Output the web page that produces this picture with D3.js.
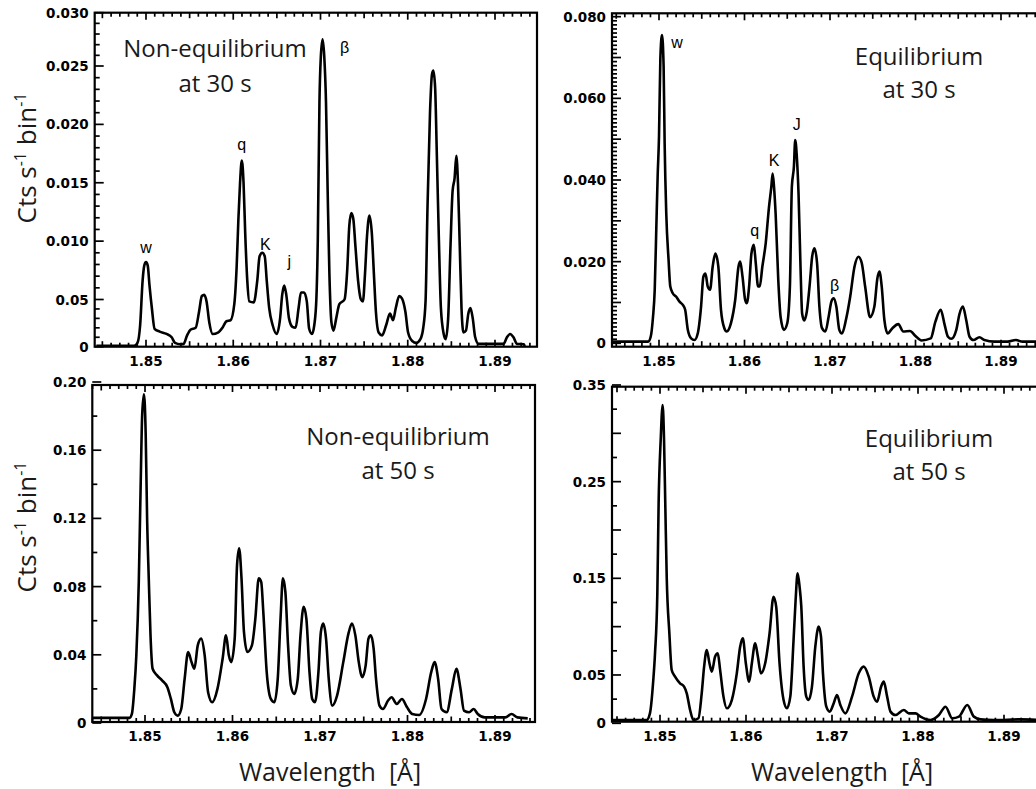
<!DOCTYPE html>
<html>
<head>
<meta charset="utf-8">
<script src="https://cdn.jsdelivr.net/npm/d3@7"></script>
<style>
  html, body { margin: 0; padding: 0; background: #fff; }
  svg { display: block; }
</style>
</head>
<body>
<svg id="chart" width="1036" height="789"></svg>
<script>
// ---- Spectra: wavelength (Å) and count rate (cts s^-1 bin^-1) ----
const nonEq30Wave = [1.84431,1.84863,1.84902,1.84933,1.84961,1.8498,1.85,1.8502,1.85039,1.85067,
  1.85098,1.85157,1.85235,1.85294,1.85333,1.85392,1.85431,1.85471,1.8551,1.85569,
  1.85608,1.8564,1.85667,1.85694,1.85725,1.85765,1.85824,1.85882,1.85922,1.85969,
  1.86012,1.86039,1.86059,1.86078,1.86098,1.86118,1.86137,1.86161,1.86184,1.86235,
  1.86275,1.86302,1.86333,1.86361,1.86384,1.86412,1.86451,1.86498,1.86537,1.86561,
  1.86584,1.86608,1.86639,1.86678,1.86714,1.86749,1.86776,1.86812,1.86843,1.8687,
  1.86902,1.86929,1.86953,1.86969,1.86988,1.87004,1.87024,1.87043,1.87063,1.87082,
  1.87102,1.87125,1.87149,1.8718,1.87216,1.87275,1.87306,1.8733,1.87353,1.87376,
  1.874,1.87431,1.87463,1.87486,1.8751,1.87533,1.87561,1.87588,1.87612,1.87635,
  1.87667,1.87706,1.87753,1.87796,1.87831,1.87863,1.87902,1.87933,1.87973,1.88004,
  1.88051,1.88098,1.88145,1.88176,1.88204,1.88227,1.88255,1.88278,1.88294,1.88314,
  1.88333,1.88357,1.8838,1.88412,1.88435,1.88463,1.8849,1.88514,1.88537,1.88557,
  1.88576,1.88596,1.88616,1.88639,1.88667,1.88694,1.88718,1.88745,1.88773,1.88812,
  1.89098,1.89137,1.89173,1.89212,1.89251,1.89333,1.89341];
const nonEq30Counts = [0.0001,0.0001,0.0004,0.0023,0.0066,0.0079,0.0082,0.0079,0.0063,0.0041,
  0.0019,0.0016,0.00135,0.001,0.0004,0.00026,0.0003,0.0012,0.0018,0.002,
  0.0037,0.0053,0.0054,0.0048,0.0026,0.00135,0.0015,0.0021,0.0027,0.0028,
  0.0045,0.0078,0.0119,0.015,0.0169,0.015,0.0107,0.0066,0.0048,0.0047,
  0.0066,0.0087,0.009,0.0087,0.0066,0.0041,0.0023,0.00135,0.003,0.0054,
  0.0062,0.0054,0.003,0.0021,0.002,0.0041,0.0056,0.0056,0.0048,0.0019,
  0.00135,0.0023,0.0051,0.0101,0.0219,0.0259,0.0275,0.0259,0.0219,0.0143,
  0.0072,0.0026,0.0017,0.003,0.0045,0.005,0.0075,0.0113,0.0124,0.0119,
  0.0096,0.0066,0.005,0.0048,0.0072,0.0104,0.0122,0.0107,0.0072,0.0037,
  0.0015,0.0012,0.0023,0.0035,0.0028,0.0041,0.0053,0.0051,0.0037,0.0015,
  0.0006,0.0004,0.0008,0.0019,0.0048,0.0131,0.021,0.0243,0.0246,0.0231,
  0.0175,0.0101,0.0041,0.00135,0.0008,0.003,0.0096,0.0143,0.0154,0.0173,
  0.0149,0.0096,0.0041,0.0015,0.0017,0.0035,0.0041,0.003,0.001,0.0003,
  0.0003,0.001,0.00135,0.001,0.0003,0.00026,0];

const eq30Wave = [1.84446,1.84872,1.84903,1.8493,1.8495,1.84969,1.84984,1.85,1.85016,1.85035,
  1.85054,1.85066,1.85085,1.85112,1.85132,1.85163,1.85202,1.8524,1.85279,1.85306,
  1.85337,1.85376,1.85415,1.85453,1.85492,1.85519,1.85543,1.8557,1.85597,1.85628,
  1.85659,1.85694,1.85725,1.85764,1.85791,1.85841,1.85891,1.8593,1.8595,1.85977,
  1.86008,1.86027,1.86054,1.86081,1.86109,1.86132,1.86159,1.86178,1.86209,1.86248,
  1.86287,1.86314,1.86329,1.86345,1.86364,1.86395,1.86422,1.86461,1.865,1.86531,
  1.86554,1.86578,1.86593,1.86612,1.86632,1.86655,1.86674,1.86698,1.86729,1.86764,
  1.86791,1.86818,1.86849,1.86876,1.86907,1.86946,1.86984,1.87016,1.87043,1.87074,
  1.87109,1.8714,1.87186,1.87236,1.87287,1.87333,1.87372,1.87411,1.87469,1.87519,
  1.87554,1.87578,1.87605,1.87636,1.87674,1.8773,1.87798,1.87857,1.87934,1.88,
  1.8807,1.88178,1.88233,1.88295,1.88341,1.8838,1.88419,1.88477,1.88516,1.88554,
  1.88593,1.88632,1.88678,1.88748,1.88806,1.88922,1.89078,1.89174,1.89252,1.89426];
const eq30Counts = [0.0004,0.0004,0.0016,0.0065,0.0131,0.0286,0.0408,0.0506,0.0698,0.0755,
  0.0678,0.049,0.0318,0.0204,0.0139,0.0122,0.0114,0.0102,0.0094,0.0082,
  0.0033,0.0012,0.0008,0.0024,0.009,0.0163,0.0171,0.0139,0.0131,0.0188,
  0.022,0.0188,0.0082,0.0037,0.0029,0.0049,0.0106,0.0188,0.02,0.0163,
  0.0106,0.0098,0.0139,0.022,0.0241,0.0196,0.0139,0.0139,0.0188,0.0245,
  0.0335,0.0384,0.0416,0.0384,0.0318,0.0155,0.0065,0.0033,0.0049,0.0139,
  0.0384,0.0433,0.0498,0.0457,0.0367,0.0188,0.0073,0.0056,0.0078,0.0147,
  0.0212,0.0233,0.0196,0.009,0.0037,0.0029,0.0065,0.0102,0.011,0.009,
  0.0033,0.0024,0.0057,0.0114,0.0188,0.0212,0.0196,0.0139,0.0064,0.009,
  0.0159,0.0176,0.0139,0.0057,0.0024,0.0037,0.0047,0.0029,0.003,0.0018,
  0.0007,0.0012,0.0053,0.0082,0.0045,0.0016,0.0011,0.0033,0.0073,0.009,
  0.0057,0.0016,0.0008,0.0015,0.0008,0.0004,0.0004,0.0008,0.0004,0.0004];

const nonEq50Wave = [1.84397,1.84823,1.8485,1.84878,1.84901,1.84929,1.84949,1.84968,1.84988,1.85008,
  1.85024,1.85043,1.85063,1.85087,1.85138,1.85197,1.85256,1.85296,1.85335,1.85374,
  1.85414,1.85453,1.85493,1.85532,1.85564,1.85603,1.85642,1.85682,1.85721,1.85768,
  1.85828,1.85887,1.85926,1.85958,1.85985,1.86025,1.86052,1.86076,1.86103,1.86131,
  1.8617,1.86222,1.86261,1.863,1.86328,1.86352,1.86391,1.86438,1.86478,1.86517,
  1.86549,1.86576,1.86604,1.86635,1.86667,1.86706,1.86746,1.86777,1.86813,1.86844,
  1.8688,1.86911,1.86943,1.86982,1.8701,1.87037,1.87069,1.871,1.8714,1.87195,
  1.87266,1.87325,1.87365,1.87404,1.87443,1.87483,1.87522,1.87554,1.87581,1.87613,
  1.8764,1.8768,1.87719,1.87778,1.87818,1.87877,1.87936,1.87995,1.88054,1.88133,
  1.88212,1.88271,1.8831,1.8835,1.88389,1.88448,1.88507,1.88559,1.88606,1.88645,
  1.88704,1.88756,1.88803,1.88882,1.89118,1.89189,1.89256,1.89374];
const nonEq50Counts = [0.003,0.003,0.0053,0.02,0.0397,0.0828,0.1358,0.181,0.1928,0.1692,
  0.1201,0.0848,0.0514,0.0318,0.0279,0.0249,0.021,0.0141,0.0063,0.0043,
  0.0082,0.0259,0.0416,0.0357,0.0318,0.0455,0.0495,0.0397,0.0181,0.0122,
  0.02,0.0377,0.0514,0.0397,0.0357,0.0495,0.0927,0.1025,0.0848,0.0534,
  0.0416,0.0455,0.0612,0.0848,0.0828,0.0652,0.0298,0.0141,0.0122,0.0259,
  0.0612,0.0848,0.077,0.0455,0.022,0.0171,0.0259,0.0514,0.0681,0.0612,
  0.0298,0.0141,0.0122,0.0298,0.0534,0.0583,0.0495,0.0259,0.0102,0.0161,
  0.0357,0.0524,0.0583,0.0514,0.0357,0.0269,0.0338,0.0495,0.0514,0.0436,
  0.0259,0.0102,0.0082,0.0132,0.0151,0.0112,0.0141,0.0092,0.0053,0.0047,
  0.0141,0.0298,0.0357,0.0259,0.0082,0.0063,0.02,0.0318,0.02,0.0073,
  0.0063,0.0082,0.0053,0.0033,0.0033,0.0053,0.0033,0.0027];

const eq50Wave = [1.84437,1.84845,1.84883,1.84922,1.84942,1.84969,1.84984,1.85008,1.85031,1.85047,
  1.85062,1.85078,1.85109,1.85136,1.85175,1.85233,1.8528,1.85311,1.8535,1.85388,
  1.85447,1.85485,1.85513,1.85544,1.85575,1.85602,1.85641,1.85672,1.85699,1.85738,
  1.85777,1.85835,1.85893,1.85932,1.85963,1.85998,1.86037,1.86068,1.86107,1.86138,
  1.86173,1.86223,1.86274,1.8632,1.86351,1.8639,1.86437,1.86476,1.86515,1.86553,
  1.86577,1.866,1.86623,1.86643,1.8667,1.86701,1.86728,1.86767,1.86806,1.86845,
  1.86872,1.86895,1.86934,1.86973,1.8702,1.87058,1.87097,1.87155,1.87233,1.87311,
  1.87369,1.87427,1.87485,1.87524,1.87571,1.87602,1.87641,1.8768,1.87738,1.87835,
  1.87893,1.87971,1.88029,1.88146,1.88243,1.8832,1.88398,1.88476,1.88573,1.8865,
  1.88728,1.88883,1.89194,1.89427];
const eq50Counts = [0.0034,0.0034,0.0103,0.0448,0.0724,0.1345,0.2276,0.2931,0.3293,0.2931,
  0.2241,0.1517,0.0931,0.0552,0.0483,0.0414,0.0379,0.031,0.0138,0.0034,
  0.0052,0.031,0.0586,0.0759,0.0621,0.0534,0.069,0.0724,0.0552,0.0276,
  0.0155,0.0241,0.0517,0.0793,0.0879,0.0621,0.0431,0.0621,0.0828,0.069,
  0.0517,0.0621,0.0931,0.131,0.1207,0.0621,0.0241,0.0155,0.0276,0.0862,
  0.1276,0.1552,0.1414,0.1207,0.0586,0.0276,0.0241,0.0379,0.0793,0.1,
  0.0897,0.0517,0.0172,0.0121,0.0207,0.0293,0.019,0.0103,0.0276,0.0517,
  0.0586,0.0483,0.0276,0.0224,0.0379,0.0431,0.0276,0.0121,0.0086,0.0138,
  0.0103,0.0103,0.0069,0.0034,0.0086,0.0172,0.0052,0.0069,0.019,0.0069,
  0.0041,0.0034,0.0041,0.0034];

// ---- Axis ticks and labels ----
const waveTicks = [1.85, 1.86, 1.87, 1.88, 1.89];
const nonEq30YTicks = [0, 0.005, 0.010, 0.015, 0.020, 0.025, 0.030];
const nonEq30YLabels = ["0", "0.05", "0.010", "0.015", "0.020", "0.025", "0.030"];
const eq30YTicks = [0, 0.020, 0.040, 0.060, 0.080];
const eq30YLabels = ["0", "0.020", "0.040", "0.060", "0.080"];
const nonEq50YTicks = [0, 0.04, 0.08, 0.12, 0.16, 0.20];
const nonEq50YLabels = ["0", "0.04", "0.08", "0.12", "0.16", "0.20"];
const eq50YTicks = [0, 0.05, 0.15, 0.25, 0.35];
const eq50YLabels = ["0", "0.05", "0.15", "0.25", "0.35"];

// ---- Line identifications ----
const nonEq30LineNames = ["w", "q", "K", "j", "β"];
const nonEq30LineWaves = [1.85, 1.86098, 1.86333, 1.86584, 1.87024];
const eq30LineNames = ["w", "q", "K", "J", "β"];
const eq30LineWaves = [1.85035, 1.86109, 1.86329, 1.86593, 1.87043];

const svg = d3.select("#chart");

const panels = [
  { wave: nonEq30Wave, counts: nonEq30Counts,
    box: { l: 94.7, r: 537, t: 12.7, b: 346.7 }, xAt: [146, 495],
    yDomain: [0, 0.005, 0.025, 0.030], yRange: [346.7, 299.5, 66, 12.7],
    yTicks: nonEq30YTicks, yLabels: nonEq30YLabels,
    yMinorStep: 0.001, yMajorEvery: 5, yTop: 0.030,
    title: ["Non-equilibrium", "at 30 s"], titleX: 215, titleY: [57, 92],
    names: nonEq30LineNames, nameWaves: nonEq30LineWaves,
    nameOffsets: [[0, -9], [0, -11], [3, -3], [5, -18], [22, 14]],
    yTitleCenter: 158, showXTitle: false },
  { wave: eq30Wave, counts: eq30Counts,
    box: { l: 612, r: 1042, t: 13.3, b: 346.7 }, xAt: [659, 1001],
    yDomain: [0, 0.08], yRange: [343.3, 16.7],
    yTicks: eq30YTicks, yLabels: eq30YLabels,
    yMinorStep: 0.001, yMajorEvery: 10, yTop: 0.080,
    title: ["Equilibrium", "at 30 s"], titleX: 919, titleY: [65, 98],
    names: eq30LineNames, nameWaves: eq30LineWaves,
    nameOffsets: [[15, 13], [1, -9], [1.5, -7], [1.5, -10], [1, -7.5]],
    yTitleCenter: null, showXTitle: false },
  { wave: nonEq50Wave, counts: nonEq50Counts,
    box: { l: 92.3, r: 535, t: 385, b: 722 }, xAt: [145, 495],
    yDomain: [0, 0.2], yRange: [723, 382],
    yTicks: nonEq50YTicks, yLabels: nonEq50YLabels,
    yMinorStep: 0.02, yMajorEvery: 2, yTop: 0.20,
    title: ["Non-equilibrium", "at 50 s"], titleX: 398, titleY: [445, 479],
    names: [], nameWaves: [], nameOffsets: [],
    yTitleCenter: 527, showXTitle: true },
  { wave: eq50Wave, counts: eq50Counts,
    box: { l: 612, r: 1042, t: 386.7, b: 721.7 }, xAt: [660, 1004],
    yDomain: [0, 0.35], yRange: [723.3, 385],
    yTicks: eq50YTicks, yLabels: eq50YLabels,
    yMinorStep: 0.025, yMajorEvery: 2, yTop: 0.35,
    title: ["Equilibrium", "at 50 s"], titleX: 929, titleY: [447, 480],
    names: [], nameWaves: [], nameOffsets: [],
    yTitleCenter: null, showXTitle: true }
];

const tickFont = "'DejaVu Sans', sans-serif";
const textFont = "'Open Sans', 'Noto Sans', sans-serif";

panels.forEach((p, i) => {
  const g = svg.append("g");
  const x = d3.scaleLinear().domain([1.85, 1.89]).range(p.xAt);
  const y = d3.scaleLinear().domain(p.yDomain).range(p.yRange);
  const bx = p.box;

  // clip to frame interior
  const clipId = "clip" + i;
  svg.append("clipPath").attr("id", clipId)
    .append("rect").attr("x", bx.l).attr("y", bx.t)
    .attr("width", bx.r - bx.l).attr("height", bx.b - bx.t);

  // x ticks every 0.001 Å on bottom (up) and top (down)
  const lo = x.invert(bx.l), hi = x.invert(bx.r);
  const xIdx = d3.range(Math.ceil(lo * 1000 + 1e-6), Math.floor(hi * 1000 - 1e-6) + 1);
  const xLen = k => (k % 10 === 0 ? 7 : (k % 5 === 0 ? 5.5 : 4));
  g.selectAll(".xtb").data(xIdx).join("line")
    .attr("x1", k => x(k / 1000)).attr("x2", k => x(k / 1000))
    .attr("y1", bx.b).attr("y2", k => bx.b - xLen(k))
    .attr("stroke", "#000").attr("stroke-width", 1.7);
  g.selectAll(".xtt").data(xIdx).join("line")
    .attr("x1", k => x(k / 1000)).attr("x2", k => x(k / 1000))
    .attr("y1", bx.t).attr("y2", k => bx.t + xLen(k))
    .attr("stroke", "#000").attr("stroke-width", 1.7);

  // y ticks on the left, pointing inward
  const nY = Math.round(p.yTop / p.yMinorStep);
  const yIdx = d3.range(0, nY + 1);
  g.selectAll(".yt").data(yIdx).join("line")
    .attr("x1", bx.l).attr("x2", k => bx.l + (k % p.yMajorEvery === 0 ? 9 : 5))
    .attr("y1", k => y(k * p.yMinorStep)).attr("y2", k => y(k * p.yMinorStep))
    .attr("stroke", "#000").attr("stroke-width", 1.7);

  // spectrum
  const pts = d3.zip(p.wave, p.counts);
  g.append("path").datum(pts)
    .attr("clip-path", `url(#${clipId})`)
    .attr("d", d3.line().x(d => x(d[0])).y(d => y(d[1])).curve(d3.curveMonotoneX))
    .attr("fill", "none").attr("stroke", "#000")
    .attr("stroke-width", 2.6).attr("stroke-linejoin", "round");

  // frame
  g.append("rect").attr("x", bx.l).attr("y", bx.t)
    .attr("width", bx.r - bx.l).attr("height", bx.b - bx.t)
    .attr("fill", "none").attr("stroke", "#000").attr("stroke-width", 2.2);

  // tick labels
  g.selectAll(".xl").data(waveTicks).join("text")
    .attr("x", d => x(d)).attr("y", bx.b + 19)
    .attr("text-anchor", "middle")
    .attr("font-family", tickFont).attr("font-weight", "bold").attr("font-size", 13.5)
    .text(d3.format(".2f"));
  g.selectAll(".yl").data(p.yTicks).join("text")
    .attr("x", bx.l - 6).attr("y", d => y(d) + 5)
    .attr("text-anchor", "end")
    .attr("font-family", tickFont).attr("font-weight", "bold").attr("font-size", 13.5)
    .text((d, j) => p.yLabels[j]);

  // panel caption
  g.selectAll(".cap").data(p.title).join("text")
    .attr("x", p.titleX).attr("y", (d, j) => p.titleY[j])
    .attr("text-anchor", "middle")
    .attr("font-family", textFont).attr("font-size", 24).attr("fill", "#1a1a1a")
    .text(d => d);

  // line identifications above peaks
  p.names.forEach((name, j) => {
    const w = p.nameWaves[j];
    const idx = d3.minIndex(p.wave, v => Math.abs(v - w));
    const off = p.nameOffsets[j];
    g.append("text")
      .attr("x", x(p.wave[idx]) + off[0]).attr("y", y(p.counts[idx]) + off[1])
      .attr("text-anchor", "middle")
      .attr("font-family", "'Liberation Sans', sans-serif").attr("font-size", 16)
      .text(name);
  });

  // axis titles
  if (p.yTitleCenter !== null) {
    const t = g.append("text")
      .attr("transform", `translate(36,${p.yTitleCenter}) rotate(-90)`)
      .attr("text-anchor", "middle")
      .attr("font-family", textFont).attr("font-size", 26).attr("fill", "#1a1a1a");
    t.append("tspan").text("Cts s");
    t.append("tspan").attr("font-size", 16).attr("dy", -10).text("-1");
    t.append("tspan").attr("dy", 10).text(" bin");
    t.append("tspan").attr("font-size", 16).attr("dy", -10).text("-1");
  }
  if (p.showXTitle) {
    g.append("text")
      .attr("x", (p.xAt[0] + p.xAt[1]) / 2 + 10).attr("y", 781)
      .attr("text-anchor", "middle")
      .attr("font-family", textFont).attr("font-size", 25).attr("fill", "#1a1a1a")
      .attr("xml:space", "preserve")
      .text("Wavelength  [Å]");
  }
});
</script>
</body>
</html>
